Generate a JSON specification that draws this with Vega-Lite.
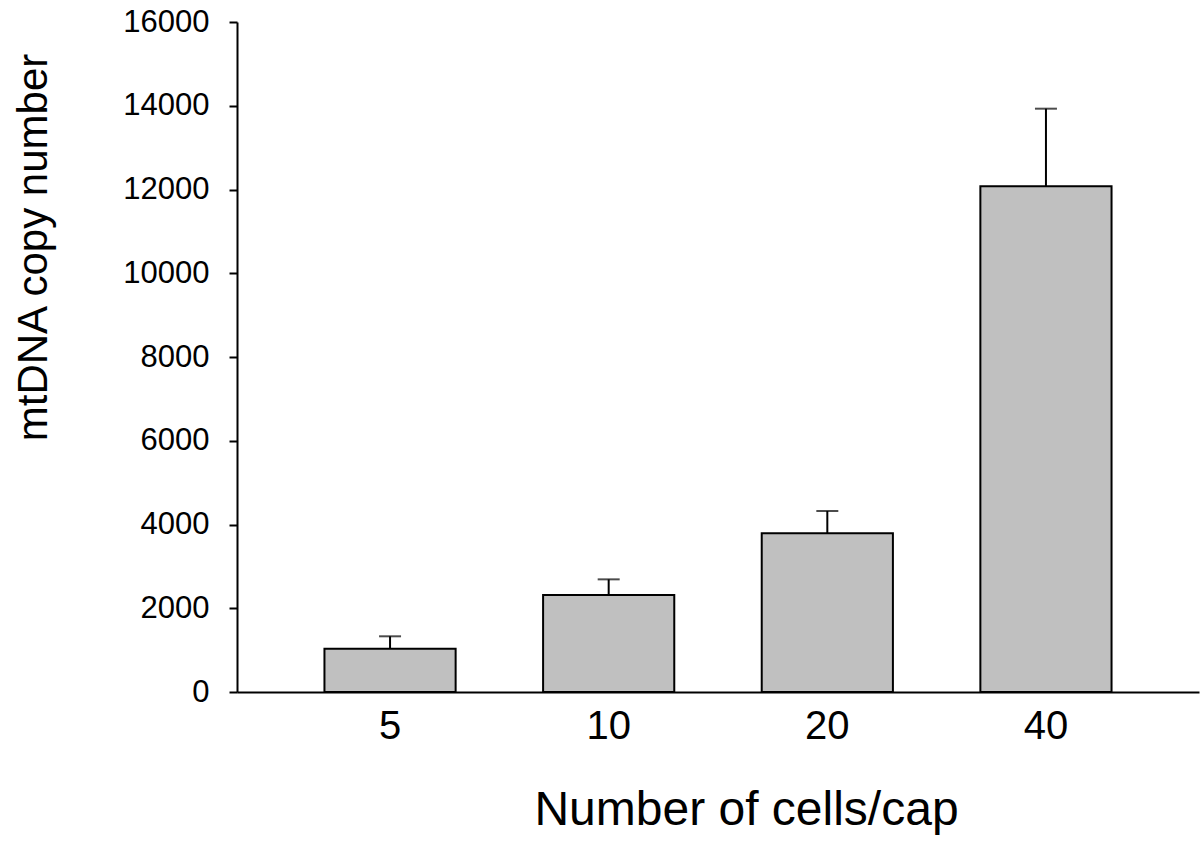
{
  "$schema": "https://vega.github.io/schema/vega-lite/v6.json",
  "autosize": {"type": "none"},
  "width": 962,
  "height": 670,
  "padding": {"left": 237, "top": 22, "right": 2, "bottom": 152},
  "background": "white",
  "config": {"view": {"stroke": null}, "font": "Liberation Sans"},
  "data": {"values": [
    {"cells": "5", "mean": 1035, "upper": 1330},
    {"cells": "10", "mean": 2316, "upper": 2690},
    {"cells": "20", "mean": 3790, "upper": 4322},
    {"cells": "40", "mean": 12075, "upper": 13930}
  ]},
  "encoding": {
    "x": {"field": "cells", "type": "ordinal", "sort": null,
      "scale": {"paddingInner": 0.4, "paddingOuter": 0.4},
      "axis": {"title": "Number of cells/cap", "labelAngle": 0, "labelFontSize": 40, "labelFont": "Liberation Sans", "labelColor": "black",
        "labelPadding": 14, "ticks": false, "domainColor": "black", "domainWidth": 2,
        "titleFontSize": 48, "titleFont": "Liberation Sans", "titleFontWeight": "normal", "titleColor": "black", "titlePadding": 40, "titleX": 509}}
  },
  "layer": [
    {"mark": {"type": "rule", "color": "black", "strokeWidth": 2},
     "encoding": {"y": {"field": "mean", "type": "quantitative"}, "y2": {"field": "upper"}}},
    {"mark": {"type": "tick", "color": "black", "thickness": 2, "size": 22},
     "encoding": {"y": {"field": "upper", "type": "quantitative"}}},
    {"mark": {"type": "bar", "fill": "#c0c0c0", "stroke": "black", "strokeWidth": 2},
     "encoding": {"y": {"field": "mean", "type": "quantitative",
        "scale": {"domain": [0, 16000], "nice": false},
        "axis": {"title": "mtDNA copy number", "values": [0,2000,4000,6000,8000,10000,12000,14000,16000], "format": "d",
          "grid": false, "tickSize": 8, "tickWidth": 2, "tickColor": "black", "domainColor": "black", "domainWidth": 2,
          "labelFontSize": 31, "labelFont": "Liberation Sans", "labelColor": "black", "labelPadding": 20,
          "titleFontSize": 42, "titleFont": "Liberation Sans", "titleFontWeight": "normal", "titleColor": "black", "titlePadding": 67, "titleY": 225}}}}
  ]
}
